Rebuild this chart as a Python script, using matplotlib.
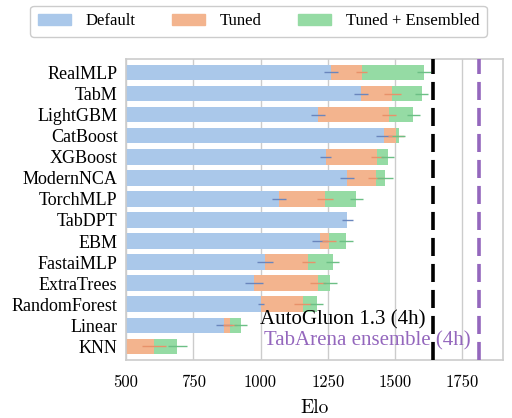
import numpy as np
import matplotlib
matplotlib.use("Agg")
import matplotlib.pyplot as plt
from matplotlib.patches import Patch

models = ["RealMLP", "TabM", "LightGBM", "CatBoost", "XGBoost", "ModernNCA", "TorchMLP",
          "TabDPT", "EBM", "FastaiMLP", "ExtraTrees", "RandomForest", "Linear", "KNN"]
default = [1262, 1373, 1214, 1460, 1242, 1321, 1068, 1323, 1221, 1016, 976, 1002, 863, 430]
tuned = [1376, 1490, 1478, 1503, 1434, 1430, 1238, np.nan, 1255, 1178, 1213, 1156, 886, 603]
ensembled = [1607, 1599, 1568, 1513, 1472, 1462, 1356, np.nan, 1317, 1268, 1258, 1208, 926, 690]
default_err = [25, 25, 25, 30, 20, 25, 25, 20, 30, 30, 35, 10, 30, 30]
tuned_err = [20, 30, 25, 30, 25, 30, 30, np.nan, 25, 25, 30, 30, 25, 45]
ens_err = [25, 25, 25, 25, 25, 30, 25, np.nan, 25, 25, 25, 25, 25, 35]
autogluon_elo = 1642
tabarena_elo = 1811
xticks = [500, 750, 1000, 1250, 1500, 1750]

c_def, c_tun, c_ens = "#aac8ea", "#f3b48e", "#95dba4"
e_def, e_tun, e_ens = "#6a86bd", "#e8916a", "#6cbf85"
serif = "Liberation Serif"

fig = plt.figure(figsize=(5.12, 4.18), dpi=100)
ax = fig.add_axes([0.246, 0.139, 0.736, 0.72])
y = np.arange(len(models))
h = 0.74
ax.barh(y, ensembled, height=h, color=c_ens, zorder=2)
ax.barh(y, tuned, height=h, color=c_tun, zorder=2)
ax.barh(y, default, height=h, color=c_def, zorder=2)
ax.errorbar(default, y, xerr=default_err, fmt="none", ecolor=e_def, elinewidth=1.0, capsize=0, zorder=3)
ax.errorbar(tuned, y, xerr=tuned_err, fmt="none", ecolor=e_tun, elinewidth=1.0, capsize=0, zorder=3)
ax.errorbar(ensembled, y, xerr=ens_err, fmt="none", ecolor=e_ens, elinewidth=1.0, capsize=0, zorder=3)

ax.axvline(autogluon_elo, color="black", lw=2.6, ls=(0, (5, 2.2)), zorder=4)
ax.axvline(tabarena_elo, color="#9467bd", lw=2.6, ls=(0, (5, 2.2)), zorder=4)
ax.text(autogluon_elo - 30, 11.76, "AutoGluon 1.3 (4h)", ha="right", va="center",
        fontsize=15, family=serif, color="black", zorder=5)
ax.text(tabarena_elo - 32, 12.76, "TabArena ensemble (4h)", ha="right", va="center",
        fontsize=15, family=serif, color="#9467bd", zorder=5)

ax.set_xlim(500, 1900)
ax.set_ylim(13.64, -0.64)
ax.set_yticks(y)
ax.set_yticklabels(models, family=serif, fontsize=13)
ax.set_xticks(xticks)
ax.set_xticklabels([str(t) for t in xticks], family="cmr10", fontsize=12)
ax.tick_params(axis="y", length=0, pad=6)
ax.tick_params(axis="x", length=0, pad=10.5)
ax.set_xlabel("Elo", family="cmr10", fontsize=14, labelpad=7)
ax.grid(axis="x", color="#cccccc", lw=1, zorder=0)
ax.set_axisbelow(True)
for s in ax.spines.values():
    s.set_color("#cccccc")
    s.set_linewidth(1.2)

handles = [Patch(color=c_def, label="Default"), Patch(color=c_tun, label="Tuned"),
           Patch(color=c_ens, label="Tuned + Ensembled")]
fig.legend(handles=handles, loc="upper center", bbox_to_anchor=(0.505, 1.006), ncol=3,
           prop={"family": serif, "size": 12}, handlelength=2.0, handleheight=0.7,
           handletextpad=0.85, columnspacing=2.2, frameon=True, fancybox=True,
           edgecolor="#cccccc", framealpha=1, borderpad=0.45)

fig.savefig("out.png", dpi=100)
